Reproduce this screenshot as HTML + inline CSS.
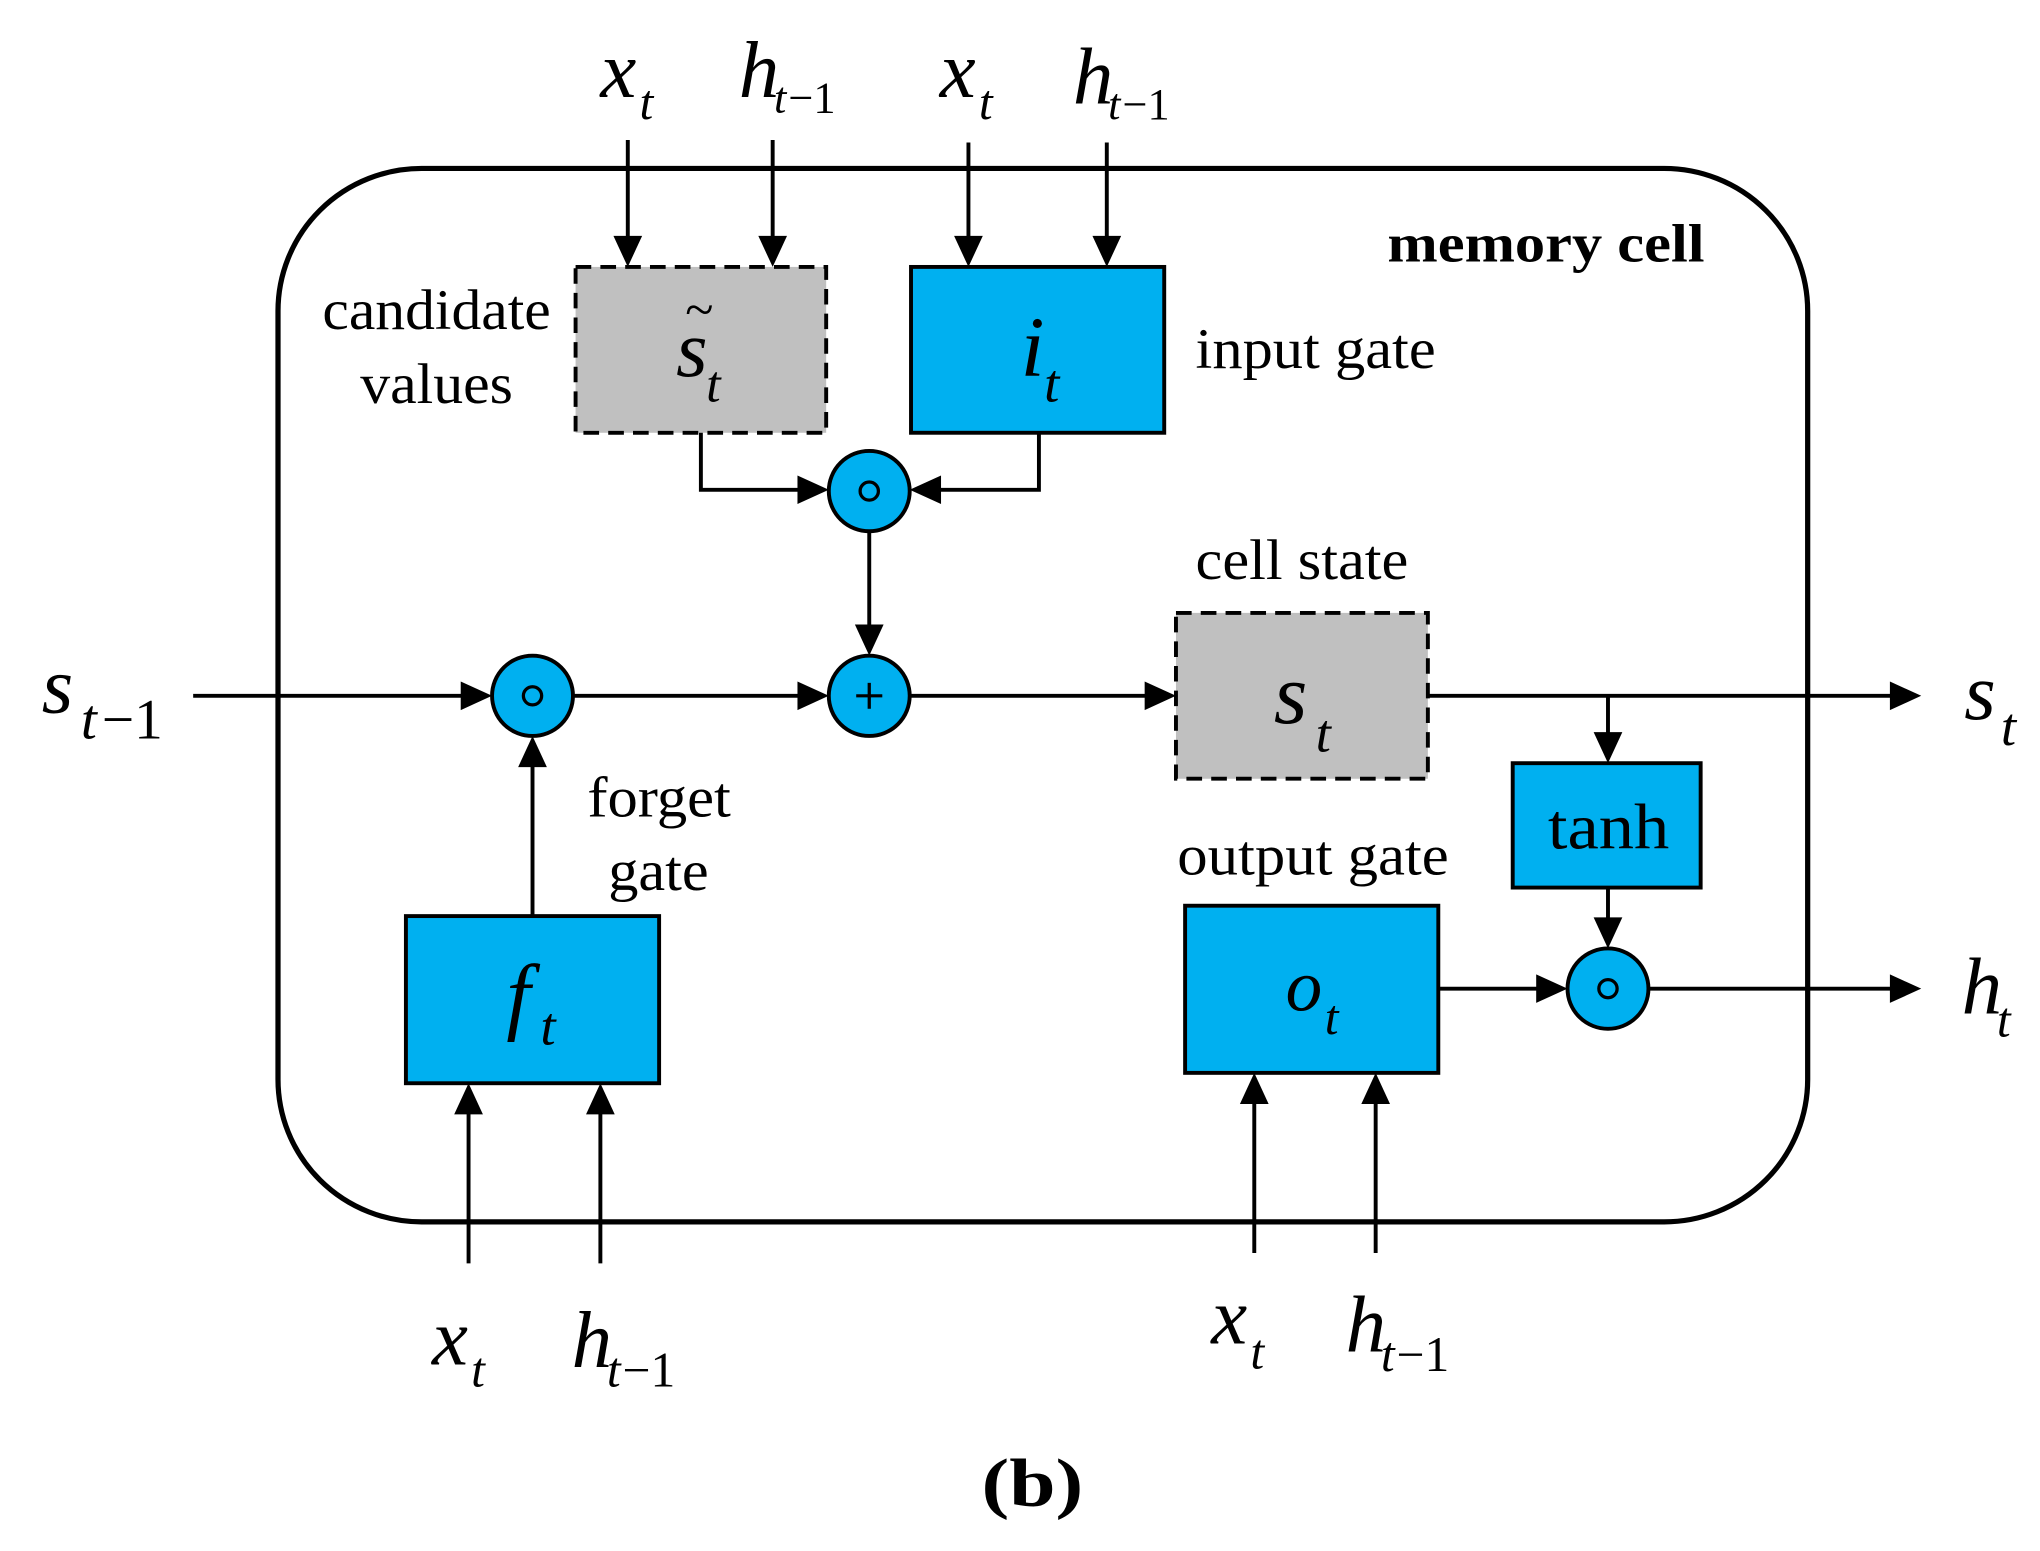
<!DOCTYPE html>
<html><head><meta charset="utf-8"><style>
html,body{margin:0;padding:0;background:#fff;}
svg{display:block;}
text{font-family:"Liberation Serif",serif;fill:#000;}
.it{font-style:italic;}
</style></head><body>
<svg width="2040" height="1551" viewBox="0 0 1563 1197" preserveAspectRatio="none" xmlns="http://www.w3.org/2000/svg">
<g fill="none" stroke="#000" stroke-width="3">
<rect x="213" y="130" width="1172" height="813" rx="110" ry="110" stroke-width="4"/>
</g>
<rect x="441" y="206" width="192" height="128" fill="#c0c0c0" stroke="#000" stroke-width="3" stroke-dasharray="12,7"/>
<rect x="698" y="206" width="194" height="128" fill="#00b0f0" stroke="#000" stroke-width="3"/>
<rect x="901" y="473" width="193" height="128" fill="#c0c0c0" stroke="#000" stroke-width="3" stroke-dasharray="12,7"/>
<rect x="1159" y="589" width="144" height="96" fill="#00b0f0" stroke="#000" stroke-width="3"/>
<rect x="311" y="707" width="194" height="129" fill="#00b0f0" stroke="#000" stroke-width="3"/>
<rect x="908" y="699" width="194" height="129" fill="#00b0f0" stroke="#000" stroke-width="3"/>
<g stroke="#000" stroke-width="3" fill="none">
<line x1="148" y1="537" x2="358" y2="537"/>
<line x1="439" y1="537" x2="616" y2="537"/>
<line x1="697" y1="537" x2="882" y2="537"/>
<line x1="1094" y1="537" x2="1452" y2="537"/>
<line x1="481" y1="108" x2="481" y2="187"/>
<line x1="592" y1="108" x2="592" y2="187"/>
<line x1="742" y1="110" x2="742" y2="187"/>
<line x1="848" y1="110" x2="848" y2="187"/>
<polyline points="537,334 537,378 616,378"/>
<polyline points="796,334 796,378 716,378"/>
<line x1="666" y1="410" x2="666" y2="487"/>
<line x1="408" y1="707" x2="408" y2="588"/>
<line x1="1232" y1="537" x2="1232" y2="570"/>
<line x1="1232" y1="685" x2="1232" y2="713"/>
<line x1="1102" y1="763" x2="1181" y2="763"/>
<line x1="1263" y1="763" x2="1452" y2="763"/>
<line x1="359" y1="975" x2="359" y2="856"/>
<line x1="460" y1="975" x2="460" y2="856"/>
<line x1="961" y1="967" x2="961" y2="848"/>
<line x1="1054" y1="967" x2="1054" y2="848"/>
</g>
<g fill="#000">
<polygon points="377,537 353,526 353,548"/>
<polygon points="635,537 611,526 611,548"/>
<polygon points="901,537 877,526 877,548"/>
<polygon points="1472,537 1448,526 1448,548"/>
<polygon points="1472,763 1448,752 1448,774"/>
<polygon points="1201,763 1177,752 1177,774"/>
<polygon points="635,378 611,367 611,389"/>
<polygon points="697,378 721,367 721,389"/>
<polygon points="481,206 470,182 492,182"/>
<polygon points="592,206 581,182 603,182"/>
<polygon points="742,206 731,182 753,182"/>
<polygon points="848,206 837,182 859,182"/>
<polygon points="666,506 655,482 677,482"/>
<polygon points="1232,589 1221,565 1243,565"/>
<polygon points="1232,732 1221,708 1243,708"/>
<polygon points="408,568 397,592 419,592"/>
<polygon points="359,836 348,860 370,860"/>
<polygon points="460,836 449,860 471,860"/>
<polygon points="961,828 950,852 972,852"/>
<polygon points="1054,828 1043,852 1065,852"/>
</g>
<g fill="#00b0f0" stroke="#000" stroke-width="3">
<circle cx="666" cy="379" r="31"/>
<circle cx="666" cy="537" r="31"/>
<circle cx="408" cy="537" r="31"/>
<circle cx="1232" cy="763" r="31"/>
</g>
<g fill="none" stroke="#000" stroke-width="2.5">
<circle cx="666" cy="379" r="7"/>
<circle cx="408" cy="537" r="7"/>
<circle cx="1232" cy="763" r="7"/>
<line x1="666" y1="527" x2="666" y2="547"/>
<line x1="656" y1="537" x2="676" y2="537"/>
</g>
<text x="1063" y="202" font-size="42" font-weight="bold" textLength="243" lengthAdjust="spacingAndGlyphs">memory cell</text>
<text x="247" y="254" font-size="44" textLength="175" lengthAdjust="spacingAndGlyphs">candidate</text>
<text x="276" y="311" font-size="44" textLength="117" lengthAdjust="spacingAndGlyphs">values</text>
<text x="916" y="284" font-size="44" textLength="184" lengthAdjust="spacingAndGlyphs">input gate</text>
<text x="916" y="447" font-size="44" textLength="163" lengthAdjust="spacingAndGlyphs">cell state</text>
<text x="450" y="630" font-size="44" textLength="110" lengthAdjust="spacingAndGlyphs">forget</text>
<text x="466" y="687" font-size="44" textLength="77" lengthAdjust="spacingAndGlyphs">gate</text>
<text x="902" y="675" font-size="44" textLength="208" lengthAdjust="spacingAndGlyphs">output gate</text>
<text x="1186" y="655" font-size="50" textLength="93" lengthAdjust="spacingAndGlyphs">tanh</text>
<text x="752" y="1162" font-size="52" font-weight="bold" textLength="78" lengthAdjust="spacingAndGlyphs">(b)</text>
<text x="518" y="290" font-size="62" class="it">s</text>
<text x="541" y="310" font-size="40" class="it">t</text>
<text x="525" y="252" font-size="40">~</text>
<text x="782" y="290" font-size="66" class="it">i</text>
<text x="800" y="310" font-size="42" class="it">t</text>
<text x="976" y="558" font-size="66" class="it">s</text>
<text x="1008" y="580" font-size="42" class="it">t</text>
<text x="388" y="790" font-size="66" class="it">f</text>
<text x="414" y="806" font-size="42" class="it">t</text>
<text x="985" y="780" font-size="56" class="it">o</text>
<text x="1015" y="798" font-size="38" class="it">t</text>
<text x="32" y="550" font-size="62" class="it">s</text>
<text x="62" y="570" font-size="44" class="it">t</text>
<text x="78" y="570" font-size="44">−1</text>
<text x="1505" y="555" font-size="62" class="it">s</text>
<text x="1533" y="575" font-size="42" class="it">t</text>
<text x="1503" y="782" font-size="62" class="it">h</text>
<text x="1530" y="800" font-size="38" class="it">t</text>
<text x="460" y="75" font-size="62" class="it">x</text><text x="490" y="92" font-size="38" class="it">t</text>
<text x="566" y="75" font-size="62" class="it">h</text><text x="593" y="87" font-size="34" class="it">t</text><text x="604" y="87" font-size="34">−1</text>
<text x="720" y="75" font-size="62" class="it">x</text><text x="750" y="92" font-size="38" class="it">t</text>
<text x="822" y="80" font-size="62" class="it">h</text><text x="849" y="92" font-size="34" class="it">t</text><text x="860" y="92" font-size="34">−1</text>
<text x="331" y="1053" font-size="62" class="it">x</text><text x="361" y="1070" font-size="38" class="it">t</text>
<text x="438" y="1055" font-size="62" class="it">h</text><text x="465" y="1070" font-size="38" class="it">t</text><text x="477" y="1070" font-size="38">−1</text>
<text x="928" y="1037" font-size="62" class="it">x</text><text x="958" y="1056" font-size="38" class="it">t</text>
<text x="1031" y="1043" font-size="62" class="it">h</text><text x="1058" y="1058" font-size="38" class="it">t</text><text x="1070" y="1058" font-size="38">−1</text>
</svg>
</body></html>
